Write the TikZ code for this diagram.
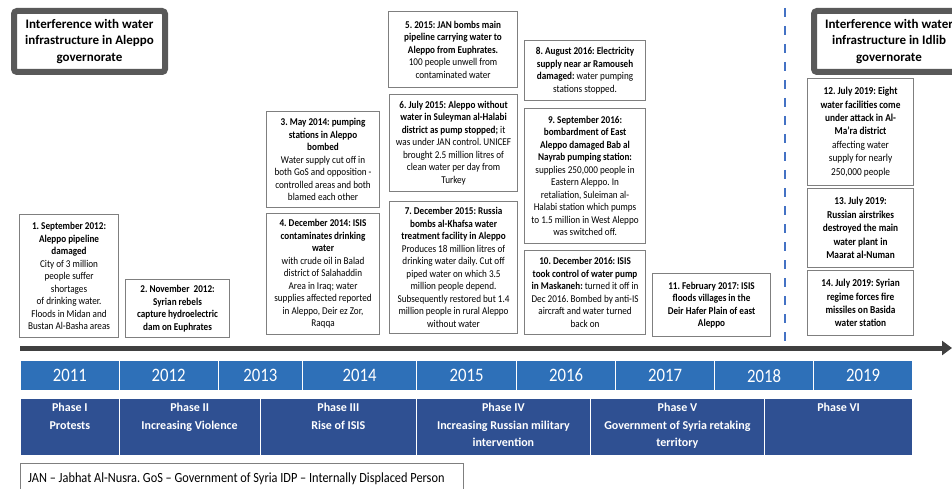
\documentclass[tikz,border=0pt]{standalone}
\usepackage{fontspec}
\setmainfont{Carlito}
\newfontfamily\narrowfont{Carlito}[FakeStretch=0.88]
\frenchspacing
\usetikzlibrary{arrows.meta}
\definecolor{boxgray}{HTML}{7F7F7F}
\definecolor{hdrgray}{HTML}{595959}
\definecolor{axisgray}{HTML}{404040}
\definecolor{yearblue}{HTML}{2E70B8}
\definecolor{phaseblue}{HTML}{2F5092}
\definecolor{dashblue}{HTML}{4472C4}
\newcommand{\bl}[1]{\textbf{#1}}
\tikzset{
  evbox/.style={draw=boxgray, line width=1.1pt, fill=white, align=center,
    inner sep=0.5pt, anchor=north west,
    font=\narrowfont\fontsize{10.4}{12.5}\selectfont},
  evboxlarge/.style={evbox, font=\narrowfont\fontsize{10.6}{13.4}\selectfont},
  hdrbox/.style={draw=hdrgray, line width=6pt, rounded corners=3pt, fill=white,
    align=center, anchor=north west, minimum height=61pt,
    font=\fontsize{13}{16.5}\selectfont\bfseries},
  yearcell/.style={draw=white, line width=1.2pt, fill=yearblue, text=white,
    anchor=north west, minimum height=30pt, inner sep=0pt,
    font=\narrowfont\fontsize{19}{21}\selectfont},
  phasecell/.style={draw=white, line width=1.2pt, fill=phaseblue,
    anchor=north west, minimum height=57pt, inner sep=0pt},
  phasetext/.style={text=white, align=center, anchor=north, inner sep=0pt,
    font=\fontsize{12}{17.5}\selectfont\bfseries},
  timeline/.style={draw=axisgray, line width=5pt,
    -{Triangle[length=10pt,width=14pt]}},
  idlibdash/.style={draw=dashblue, line width=2.5pt, dash pattern=on 9pt off 9pt},
  legendbox/.style={draw=boxgray, line width=1pt, fill=white, anchor=north west,
    minimum width=443pt, minimum height=32pt},
  legendtext/.style={anchor=west, inner sep=0pt,
    font=\narrowfont\fontsize{14}{16}\selectfont},
}
\begin{document}
\begin{tikzpicture}[x=1pt,y=-1pt]
\useasboundingbox (0,0) rectangle (952,489);
\clip (0,0) rectangle (952,489);

% governorate headers
\node[hdrbox, minimum width=151pt] (hAleppo) at (11,8)
  {Interference with water\\infrastructure in Aleppo\\governorate};
\node[hdrbox, minimum width=150pt] (hIdlib) at (811,8)
  {Interference with water\\infrastructure in Idlib\\governorate};

% boundary between the two governorates
\coordinate (dTop) at (785,8);
\coordinate (dBot) at (785,346);
\draw[idlibdash] (dTop) -- (dBot);

% events
\node[evbox, minimum width=99pt, minimum height=123pt] (e1) at (19,214)
  {\bl{1. September 2012:}\\\bl{Aleppo pipeline}\\\bl{damaged}\\City of 3 million\\people suffer\\shortages\\of drinking water.\\Floods in Midan and\\Bustan Al-Basha areas};
\node[evbox, minimum width=104pt, minimum height=58pt] (e2) at (125,279)
  {\bl{2. November\ \ 2012:}\\\bl{Syrian rebels}\\\bl{capture hydroelectric}\\\bl{dam on Euphrates}};
\node[evbox, minimum width=113pt, minimum height=96pt] (e3) at (266,111)
  {\bl{3. May 2014: pumping}\\\bl{stations in Aleppo}\\\bl{bombed}\\Water supply cut off in\\both GoS and opposition -\\controlled areas and both\\blamed each other};
\node[evbox, minimum width=113pt, minimum height=121pt] (e4) at (266,213)
  {\bl{4. December 2014: ISIS}\\\bl{contaminates drinking}\\\bl{water}\\with crude oil in Balad\\district of Salahaddin\\Area in Iraq; water\\supplies affected reported\\in Aleppo, Deir ez Zor,\\Raqqa};
\node[evbox, minimum width=129pt, minimum height=76pt] (e5) at (388,11)
  {\bl{5. 2015: JAN bombs main}\\\bl{pipeline carrying water to}\\\bl{Aleppo from Euphrates.}\\100 people unwell from\\contaminated water};
\node[evbox, minimum width=128pt, minimum height=97pt] (e6) at (389,94)
  {\bl{6. July 2015: Aleppo without}\\\bl{water in Suleyman al-Halabi}\\\bl{district as pump stopped;} it\\was under JAN control. UNICEF\\brought 2.5 million litres of\\clean water per day from\\Turkey};
\node[evbox, minimum width=128pt, minimum height=132pt] (e7) at (389,201)
  {\bl{7. December 2015: Russia}\\\bl{bombs al-Khafsa water}\\\bl{treatment facility in Aleppo}\\Produces 18 million litres of\\drinking water daily. Cut off\\piped water on which 3.5\\million people depend.\\Subsequently restored but 1.4\\million people in rural Aleppo\\without water};
\node[evbox, minimum width=121pt, minimum height=60pt] (e8) at (524,40)
  {\bl{8. August 2016: Electricity}\\\bl{supply near ar Ramouseh}\\\bl{damaged:} water pumping\\stations stopped.};
\node[evbox, minimum width=121pt, minimum height=135pt] (e9) at (524,108)
  {\bl{9. September 2016:}\\\bl{bombardment of East}\\\bl{Aleppo damaged Bab al}\\\bl{Nayrab pumping station:}\\supplies 250,000 people in\\Eastern Aleppo. In\\retaliation, Suleiman al-\\Halabi station which pumps\\to 1.5 million in West Aleppo\\was switched off.};
\node[evbox, minimum width=121pt, minimum height=84pt] (e10) at (524,250)
  {\bl{10. December 2016: ISIS}\\\bl{took control of water pump}\\\bl{in Maskaneh:} turned it off in\\Dec 2016. Bombed by anti-IS\\aircraft and water turned\\back on};
\node[evbox, minimum width=118pt, minimum height=63pt] (e11) at (652,273)
  {\bl{11. February 2017: ISIS}\\\bl{floods villages in the}\\\bl{Deir Hafer Plain of east}\\\bl{Aleppo}};
\node[evboxlarge, minimum width=106pt, minimum height=107pt] (e12) at (807,78)
  {\bl{12. July 2019: Eight}\\\bl{water facilities come}\\\bl{under attack in Al-}\\\bl{Ma’ra district}\\affecting water\\supply for nearly\\250,000 people};
\node[evboxlarge, minimum width=106pt, minimum height=79pt] (e13) at (807,188)
  {\bl{13. July 2019:}\\\bl{Russian airstrikes}\\\bl{destroyed the main}\\\bl{water plant in}\\\bl{Maarat al-Numan}};
\node[evboxlarge, minimum width=106pt, minimum height=65pt] (e14) at (807,270)
  {\bl{14. July 2019: Syrian}\\\bl{regime forces fire}\\\bl{missiles on Basida}\\\bl{water station}};

% time axis
\coordinate (tStart) at (20,348);
\coordinate (tEnd) at (952,348);
\draw[timeline] (tStart) -- (tEnd);

% years
\foreach \a/\b/\yr in {20/118.5/2011, 118.5/217.6/2012, 217.6/302/2013,
    302/416/2014, 416/516/2015, 516/615/2016, 615/714/2017, 714/813/2018, 813/912/2019} {
  \pgfmathsetmacro{\w}{\b-\a}
  \node[yearcell, minimum width=\w pt] (yr\yr) at (\a,360) {\yr};
}

% phases
\foreach \a/\b/\ph in {20/118.5/1, 118.5/259.5/2, 259.5/416/3, 416/589.6/4, 589.6/764/5, 764/912/6} {
  \pgfmathsetmacro{\w}{\b-\a}
  \node[phasecell, minimum width=\w pt] (ph\ph) at (\a,398) {};
}
\node[phasetext] (pt1) at (ph1.north) [yshift=-5pt] {Phase I\\Protests};
\node[phasetext] (pt2) at (ph2.north) [yshift=-5pt] {Phase II\\Increasing Violence};
\node[phasetext] (pt3) at (ph3.north) [yshift=-5pt] {Phase III\\Rise of ISIS};
\node[phasetext] (pt4) at (ph4.north) [yshift=-5pt] {Phase IV\\Increasing Russian military\\intervention};
\node[phasetext] (pt5) at (ph5.north) [yshift=-5pt] {Phase V\\Government of Syria retaking\\territory};
\node[phasetext] (pt6) at (ph6.north) [yshift=-5pt] {Phase VI};

% abbreviations
\node[legendbox] (legend) at (20,463) {};
\node[legendtext] (legendTxt) at ([xshift=8pt,yshift=1pt]legend.west)
  {JAN – Jabhat Al-Nusra. GoS – Government of Syria IDP – Internally Displaced Person};
\end{tikzpicture}
\end{document}
